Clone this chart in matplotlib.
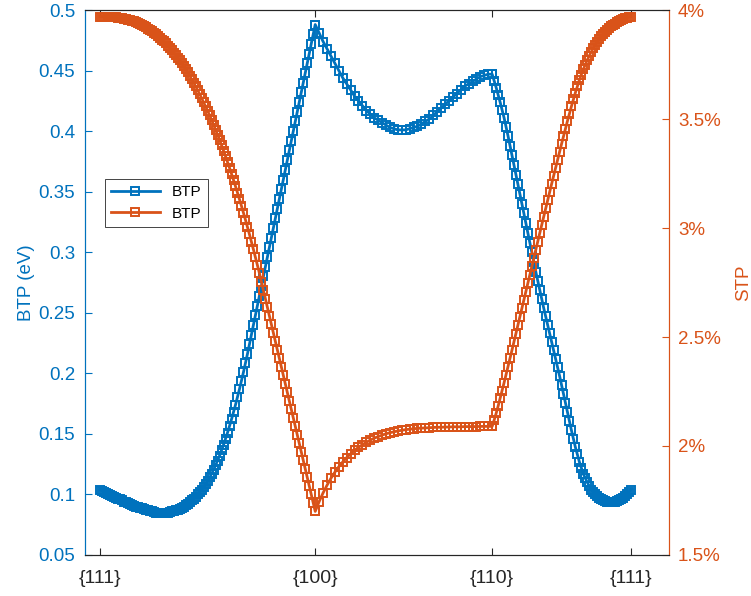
import numpy as np
import matplotlib
matplotlib.use('Agg')
import matplotlib.pyplot as plt
from matplotlib.ticker import FuncFormatter

plt.rcParams['font.family'] = ['Liberation Sans', 'DejaVu Sans']

# orientation path: {111} -> {100} -> {110} -> {111} (angles in degrees)
tick_angles = [0, 54.74, 99.74, 135]
tick_names = ['{111}', '{100}', '{110}', '{111}']

# BTP (eV), left axis
btp_seg1 = [0.104, 0.103, 0.102, 0.101, 0.100, 0.0995, 0.099, 0.098, 0.097, 0.0965,
            0.096, 0.095, 0.094, 0.0935, 0.093, 0.092, 0.091, 0.0905, 0.090, 0.0895,
            0.089, 0.0885, 0.088, 0.0875, 0.087, 0.0865, 0.086, 0.0855, 0.085, 0.085,
            0.085, 0.0848, 0.085, 0.085, 0.085, 0.0855, 0.086, 0.0865, 0.087, 0.0875,
            0.088, 0.089, 0.090, 0.091, 0.092, 0.0935, 0.095, 0.0965, 0.098, 0.100,
            0.102, 0.104, 0.106, 0.1085, 0.111, 0.114, 0.117, 0.1205, 0.124, 0.128,
            0.132, 0.1365, 0.141, 0.146, 0.151, 0.1565, 0.162, 0.168, 0.174, 0.1805,
            0.187, 0.194, 0.201, 0.2085, 0.216, 0.224, 0.232, 0.240, 0.248, 0.256,
            0.264, 0.272, 0.280, 0.288, 0.296, 0.304, 0.312, 0.320, 0.328, 0.336,
            0.344, 0.352, 0.360, 0.368, 0.376, 0.384, 0.392, 0.400, 0.408, 0.416,
            0.424, 0.432, 0.440, 0.448, 0.456, 0.464, 0.472, 0.480, 0.488]
btp_seg2 = [0.488, 0.481, 0.474, 0.468, 0.462, 0.456, 0.450, 0.444, 0.439, 0.434,
            0.429, 0.425, 0.421, 0.417, 0.414, 0.411, 0.409, 0.407, 0.405, 0.403,
            0.402, 0.401, 0.401, 0.401, 0.402, 0.403, 0.404, 0.406, 0.408, 0.410,
            0.413, 0.416, 0.419, 0.422, 0.425, 0.428, 0.431, 0.434, 0.437, 0.439,
            0.441, 0.443, 0.445, 0.446, 0.447, 0.447]
btp_seg3 = [0.447, 0.4415, 0.436, 0.430, 0.424, 0.4175, 0.411, 0.4035, 0.396, 0.388,
            0.380, 0.372, 0.364, 0.356, 0.348, 0.340, 0.332, 0.324, 0.316, 0.308,
            0.300, 0.292, 0.284, 0.2765, 0.269, 0.2615, 0.254, 0.247, 0.240, 0.233,
            0.226, 0.219, 0.212, 0.205, 0.198, 0.1905, 0.183, 0.1755, 0.168, 0.1605,
            0.153, 0.146, 0.139, 0.133, 0.127, 0.122, 0.117, 0.1135, 0.110, 0.107,
            0.104, 0.102, 0.100, 0.0985, 0.097, 0.096, 0.095, 0.0945, 0.094, 0.094,
            0.094, 0.094, 0.094, 0.0945, 0.095, 0.096, 0.097, 0.0985, 0.100, 0.102,
            0.104]

# STP (%), right axis
stp_seg1 = [3.970, 3.970, 3.970, 3.9695, 3.969, 3.9685, 3.968, 3.9675, 3.967, 3.9655,
            3.964, 3.9625, 3.961, 3.9585, 3.956, 3.9535, 3.951, 3.9475, 3.944, 3.940,
            3.936, 3.931, 3.926, 3.9205, 3.915, 3.909, 3.903, 3.896, 3.889, 3.881,
            3.873, 3.8645, 3.856, 3.8465, 3.837, 3.8265, 3.816, 3.805, 3.794, 3.7815,
            3.769, 3.7555, 3.742, 3.728, 3.714, 3.6985, 3.683, 3.6665, 3.650, 3.6325,
            3.615, 3.596, 3.577, 3.5575, 3.538, 3.517, 3.496, 3.4735, 3.451, 3.428,
            3.405, 3.380, 3.355, 3.329, 3.303, 3.276, 3.249, 3.2205, 3.192, 3.162,
            3.132, 3.101, 3.070, 3.0375, 3.005, 2.971, 2.937, 2.9015, 2.866, 2.8295,
            2.793, 2.7535, 2.714, 2.675, 2.636, 2.597, 2.558, 2.519, 2.480, 2.441,
            2.402, 2.363, 2.324, 2.285, 2.246, 2.207, 2.168, 2.129, 2.090, 2.051,
            2.012, 1.973, 1.934, 1.895, 1.856, 1.817, 1.778, 1.739, 1.700]
stp_seg2 = [1.700, 1.745, 1.785, 1.820, 1.852, 1.880, 1.905, 1.927, 1.947, 1.964,
            1.980, 1.994, 2.006, 2.017, 2.027, 2.036, 2.043, 2.050, 2.056, 2.061,
            2.065, 2.069, 2.072, 2.075, 2.077, 2.079, 2.081, 2.082, 2.083, 2.084,
            2.085, 2.086, 2.086, 2.087, 2.087, 2.088, 2.088, 2.088, 2.089, 2.089,
            2.089, 2.089, 2.090, 2.090, 2.090, 2.090]
stp_seg3 = [2.090, 2.119, 2.150, 2.183, 2.218, 2.254, 2.290, 2.327, 2.364, 2.402,
            2.440, 2.478, 2.516, 2.5545, 2.593, 2.6315, 2.670, 2.7085, 2.747, 2.7855,
            2.824, 2.862, 2.900, 2.938, 2.976, 3.014, 3.052, 3.0895, 3.127, 3.1645,
            3.202, 3.239, 3.276, 3.3125, 3.349, 3.385, 3.421, 3.456, 3.491, 3.525,
            3.558, 3.590, 3.621, 3.650, 3.678, 3.704, 3.728, 3.750, 3.771, 3.790,
            3.808, 3.824, 3.840, 3.854, 3.867, 3.879, 3.890, 3.900, 3.909, 3.917,
            3.925, 3.932, 3.938, 3.944, 3.949, 3.954, 3.958, 3.962, 3.965, 3.968,
            3.970]


def path(segments):
    xs, ys = [], []
    for k, seg in enumerate(segments):
        xs.append(np.linspace(tick_angles[k], tick_angles[k + 1], len(seg)))
        ys.append(seg)
    return np.concatenate(xs), np.concatenate(ys)


x_btp, btp = path([btp_seg1, btp_seg2, btp_seg3])
x_stp, stp = path([stp_seg1, stp_seg2, stp_seg3])

blue = '#0072BD'
orange = '#D95319'
dark = '#262626'

fig = plt.figure(figsize=(7.51, 5.96), dpi=100)
ax1 = fig.add_axes([0.1132, 0.0688, 0.7776, 0.9144])
ax2 = ax1.twinx()

l1, = ax1.plot(x_btp, btp, '-s', color=blue, lw=2, ms=6, mfc='none', mew=1.4, label='BTP')
l2, = ax2.plot(x_stp, stp, '-s', color=orange, lw=2, ms=6, mfc='none', mew=1.4, label='BTP')

ax1.set_xlim(-3.8, 144.7)
ax1.set_ylim(0.05, 0.5)
ax2.set_ylim(1.5, 4)
ax1.set_yticks(np.arange(0.05, 0.501, 0.05))
ax2.set_yticks(np.arange(1.5, 4.01, 0.5))
ax1.yaxis.set_major_formatter(FuncFormatter(lambda v, p: '%g' % round(v, 2)))
ax2.yaxis.set_major_formatter(FuncFormatter(lambda v, p: '%g%%' % v))
ax1.set_xticks(tick_angles)
ax1.set_xticklabels(tick_names)

ax1.tick_params(axis='x', direction='in', length=5, top=True, colors=dark, labelsize=14, pad=11)
ax1.tick_params(axis='y', direction='in', length=5, colors=blue, labelsize=13.5, pad=7)
ax2.tick_params(axis='y', direction='in', length=5, colors=orange, labelsize=13.5, pad=6.5)

for ax in (ax1, ax2):
    ax.spines['top'].set_color(dark)
    ax.spines['bottom'].set_color(dark)
    ax.spines['left'].set_color(blue)
    ax.spines['right'].set_color(orange)
    for s in ax.spines.values():
        s.set_linewidth(0.8)

ax1.set_ylabel('BTP (eV)', color=blue, fontsize=13.5, labelpad=2.5)
ax2.set_ylabel('STP', color=orange, fontsize=13.5, labelpad=10.5)

leg = ax2.legend([l1, l2], ['BTP', 'BTP'], loc='upper left', bbox_to_anchor=(0.034, 0.69),
                 borderaxespad=0, fancybox=False, edgecolor=dark, fontsize=11,
                 handlelength=3.2, framealpha=1)
leg.get_frame().set_linewidth(0.6)

fig.savefig('out.png', dpi=100)
